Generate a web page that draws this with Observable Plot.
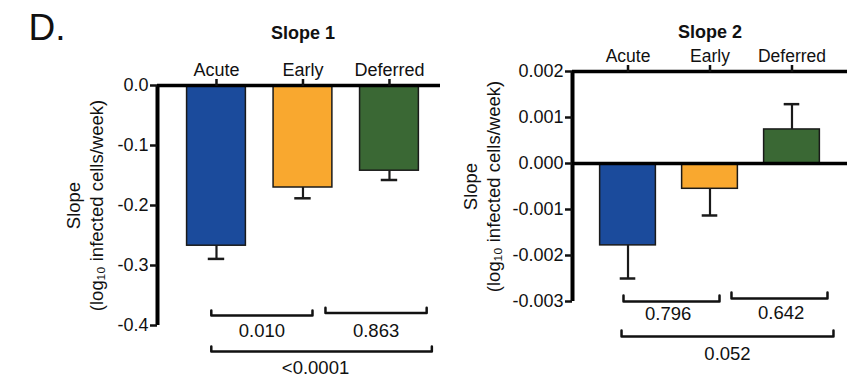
<!DOCTYPE html>
<html>
<head>
<meta charset="utf-8">
<script src="https://cdn.jsdelivr.net/npm/d3@7"></script>
<script src="https://cdn.jsdelivr.net/npm/@observablehq/plot@0.6"></script>
<style>
  html, body { margin: 0; padding: 0; background: #fff; }
  #wrap { position: relative; width: 849px; height: 381px; overflow: hidden; }
  #wrap > div { position: absolute; top: 0; }
</style>
</head>
<body>
<div id="wrap"><div id="p1" style="left:0"></div><div id="p2" style="left:440px"></div></div>
<script>
// ---- data ----
const categories = ["Acute", "Early", "Deferred"];
const slope1Mean = [-0.267, -0.170, -0.142];
const slope1Err  = [0.022, 0.018, 0.0155];
const slope2Mean = [-0.00178, -0.00055, 0.00074];
const slope2Err  = [0.00072, 0.00058, 0.00055];
const slope1Ticks = [0, -0.1, -0.2, -0.3, -0.4];
const slope2Ticks = [0.002, 0.001, 0, -0.001, -0.002, -0.003];
const comparisons = [[0, 1], [1, 2], [0, 2]];
const pValues1 = ["0.010", "0.863", "<0.0001"];
const pValues2 = ["0.796", "0.642", "0.052"];
const barColors = ["#1b4b9c", "#f9a82f", "#3a6834"];
const yLabelText = "Slope\n(log\u2081\u2080 infected cells/week)";

const FONT = "'Liberation Sans', Arial, Helvetica, sans-serif";
const INK = "#111";

function panel(o) {
  const rows = categories.map((c, i) => ({
    i, c, v: o.means[i], e: o.errs[i],
    end: o.means[i] + Math.sign(o.means[i]) * o.errs[i],
    fill: barColors[i]
  }));
  const half = 0.34, cap = 0.095;
  const bracketPts = [];
  const labelMarks = [];
  comparisons.forEach(([a, b], k) => {
    const [s, e] = o.spans[k];
    const y = o.bracketY[k];
    const t = o.bracketTick;
    bracketPts.push({k, x: a + s, y: y + t}, {k, x: a + s, y}, {k, x: b + e, y}, {k, x: b + e, y: y + t});
    labelMarks.push(Plot.text([{x: (a + s + b + e) / 2 + o.lblShift[k], y, t: o.pvals[k]}],
      {x: "x", y: "y", text: "t", dy: o.lblDy[k], fontSize: 18.5, fill: INK}));
  });
  return Plot.plot({
    width: o.width, height: o.height,
    marginLeft: o.ml, marginRight: o.mr, marginTop: o.mt, marginBottom: o.mb,
    style: {fontFamily: FONT, fontSize: "18px", color: INK, background: "transparent", overflow: "visible"},
    x: {type: "linear", domain: o.xDomain},
    y: {domain: o.yDomain},
    marks: [
      Plot.rect(rows, {x1: d => d.i - half, x2: d => d.i + half, y1: 0, y2: "v", fill: "fill", stroke: "#1a1a1a", strokeWidth: 1.5}),
      Plot.ruleX(rows, {x: "i", y1: "v", y2: "end", stroke: "#1a1a1a", strokeWidth: 2.2}),
      Plot.ruleY(rows, {y: "end", x1: d => d.i - cap, x2: d => d.i + cap, stroke: "#1a1a1a", strokeWidth: 2.5}),
      Plot.ruleX([o.xDomain[0]], {stroke: "#000", strokeWidth: 4}),
      Plot.ruleY(o.hLines, {stroke: "#000", strokeWidth: 3.5}),
      Plot.axisY({ticks: o.ticks, tickFormat: o.fmt, tickSize: 7, tickPadding: 2, fontSize: 18, strokeWidth: 2.5, label: null, color: INK}),
      Plot.axisX({anchor: "top", ticks: [0, 1, 2], tickFormat: i => categories[i], tickSize: 7, tickPadding: 3, fontSize: o.catSize, strokeWidth: 2.5, label: null, color: INK}),
      Plot.text([o.title], {x: 1, frameAnchor: "top", dy: o.titleDy, fontWeight: "bold", fontSize: 18, fill: INK}),
      Plot.text([yLabelText], {frameAnchor: "left", textAnchor: "middle", lineAnchor: "middle", rotate: -90, dx: o.ylDx, fontSize: 18.5, lineHeight: 1.25, fill: INK}),
      Plot.line(bracketPts, {x: "x", y: "y", z: "k", stroke: "#111", strokeWidth: 2.5}),
      ...labelMarks,
      ...(o.extra || [])
    ]
  });
}

const left = panel({
  width: 440, height: 381, ml: 157, mr: 0, mt: 85, mb: 56,
  xDomain: [-0.682, 2.59], yDomain: [-0.4, 0],
  means: slope1Mean, errs: slope1Err, ticks: slope1Ticks, fmt: d => d.toFixed(1),
  hLines: [0], title: "Slope 1", titleDy: -59, ylDx: -73.5, catSize: 18,
  spans: [[-0.06, 0.11], [0.26, 0.43], [-0.06, 0.49]],
  bracketY: [-0.3833, -0.379, -0.4433], bracketTick: 0.0085,
  lblShift: [0, 0, -0.07], lblDy: [16, 18, 17],
  pvals: pValues1,
  extra: [Plot.text(["D."], {frameAnchor: "top-left", dx: -129, dy: -46, lineAnchor: "bottom", textAnchor: "start", fontSize: 37, fill: INK})]
});
const right = panel({
  width: 409, height: 381, ml: 132, mr: 2, mt: 71, mb: 80,
  xDomain: [-0.677, 2.677], yDomain: [-0.003, 0.002],
  means: slope2Mean, errs: slope2Err, ticks: slope2Ticks, fmt: d => d.toFixed(3),
  hLines: [0.002, 0], title: "Slope 2", titleDy: -46, ylDx: -91.5, catSize: 17.5,
  spans: [[-0.055, 0.116], [0.262, 0.433], [-0.079, 0.506]],
  bracketY: [-0.0030, -0.002935, -0.00376], bracketTick: 0.00013,
  lblShift: [-0.04, 0.02, 0], lblDy: [13, 15, 18],
  pvals: pValues2
});
document.getElementById("p1").appendChild(left);
document.getElementById("p2").appendChild(right);
</script>
</body>
</html>
